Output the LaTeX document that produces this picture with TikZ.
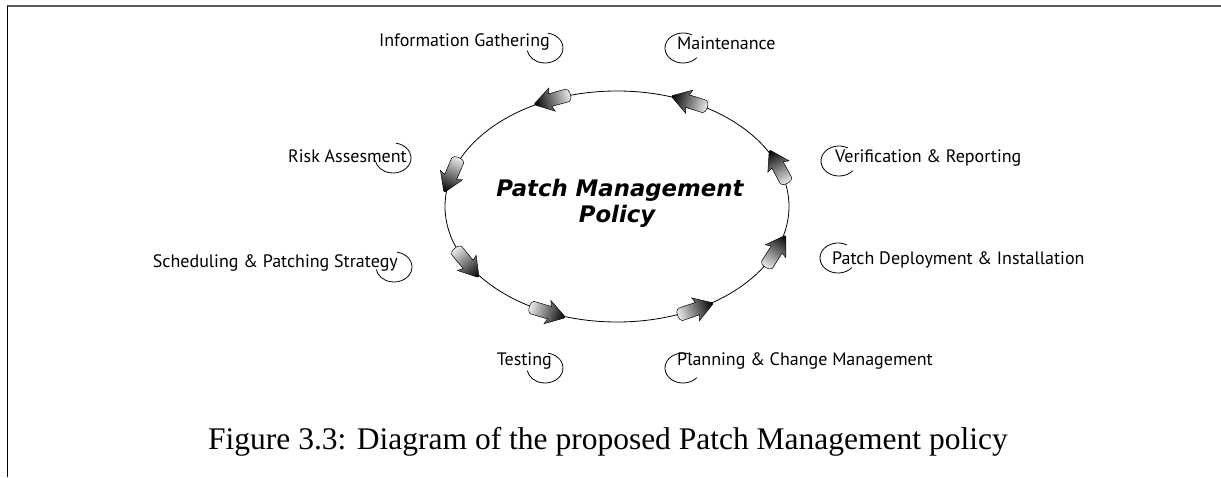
\documentclass[tikz,border=0pt]{standalone}
\usepackage{fontspec}
\setmainfont{Liberation Serif}
\newfontfamily\labelfont{PT Sans}
\newfontfamily\titlefont{DejaVu Sans}

\begin{document}
\begin{tikzpicture}[x=1pt,y=1pt,
  steplabel/.style={font=\labelfont\fontsize{18}{21}\selectfont, inner sep=0pt},
  titletext/.style={font=\titlefont\bfseries\itshape\fontsize{22.8}{26}\selectfont, inner sep=0pt, anchor=base},
  swirl/.style={line width=0.8pt},
  cyclearrow/.style={draw=black, line width=0.5pt, left color=gray!15, right color=black}
]
\useasboundingbox (0,0) rectangle (1221,477);

% page frame fragments
\draw[gray!70!black, line width=2pt] (7,471) -- (1221,471);
\draw[line width=1.5pt] (7.5,471) -- (7.5,0);

% the policy cycle
\draw[line width=0.8pt] (617,270.5) ellipse [x radius=172, y radius=115.5];
\foreach \t [count=\i] in {20,65,112,164,209,246,297,337}{
  \pgfmathsetmacro\dir{atan2(115.5*cos(\t),-172*sin(\t))}
  \pgfmathsetmacro\px{617+172*cos(\t)}
  \pgfmathsetmacro\py{270.5+115.5*sin(\t)}
  \coordinate (arr\i) at (\px,\py);
  \begin{scope}[transform canvas={shift={(\px pt,\py pt)}, rotate=\dir}]
    % block arrow pointing along +x: rounded light tail, dark head
    \shade[cyclearrow]
      (-15.5,-6.5) -- (2.5,-6.5) -- (0.5,-12) -- (18,-1) to[out=20,in=-20] (18,1)
      -- (0.5,12) -- (2.5,6.5) -- (-15.5,6.5)
      arc[start angle=90, end angle=270, x radius=3, y radius=6.5] -- cycle;
  \end{scope}
}

% centre title
\node[titletext] (title) at (620,280) {Patch Management};
\node[titletext] (titlepolicy) at (617,254) {Policy};

% step labels
\node[steplabel, anchor=base east] (info)   at (550,430) {Information Gathering};
\node[steplabel, anchor=base west] (maint)  at (677,427) {Maintenance};
\node[steplabel, anchor=base east] (risk)   at (407,314) {Risk Assesment};
\node[steplabel, anchor=base east] (sched)  at (398,209) {Scheduling \& Patching Strategy};
\node[steplabel, anchor=base west] (verif)  at (835,314) {Verification \& Reporting};
\node[steplabel, anchor=base west] (deploy) at (832,212) {Patch Deployment \& Installation};
\node[steplabel, anchor=base east] (test)   at (552,111) {Testing};
\node[steplabel, anchor=base west] (plan)   at (677,111) {Planning \& Change Management};

% swirls around the label ends
\foreach \x/\y in {545/429, 393/319, 394/210, 545/109}{
  \draw[swirl] (\x,\y) ++(80:18 and 15) arc[start angle=80, end angle=-170, x radius=18, y radius=15];
}
\foreach \x/\y in {683/429, 839/316, 838/219, 683/109}{
  \draw[swirl] (\x,\y) ++(60:18 and 15) arc[start angle=60, end angle=320, x radius=18, y radius=15];
}

% caption
\node[font=\fontsize{31.5}{34}\selectfont, anchor=base west, inner sep=0pt] (caption) at (208,28)
  {Figure 3.3: Diagram of the proposed Patch Management policy};
\end{tikzpicture}
\end{document}
